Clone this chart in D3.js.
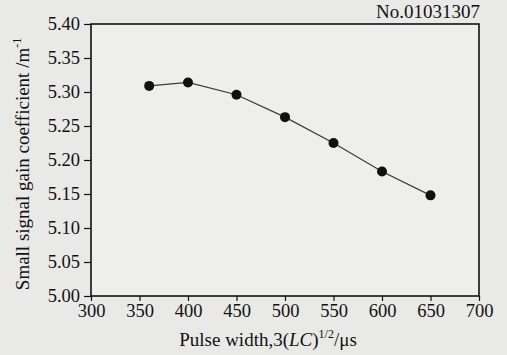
<!DOCTYPE html>
<html>
<head>
<meta charset="utf-8">
<script src="https://cdn.jsdelivr.net/npm/d3@7"></script>
<style>
  html, body { margin: 0; padding: 0; background: #e9e9e7; }
  svg { display: block; }
</style>
</head>
<body>
<div id="chart"></div>
<script>
// Data
const pulseWidth = [360, 400, 450, 500, 550, 600, 650];
const gainCoeff  = [5.309, 5.314, 5.296, 5.263, 5.225, 5.183, 5.148];
const xTicks = [300, 350, 400, 450, 500, 550, 600, 650, 700];
const yTicks = [5.00, 5.05, 5.10, 5.15, 5.20, 5.25, 5.30, 5.35, 5.40];

const INK  = '#111';
const LINE = '#3a3a3a';
const FONT = "'Liberation Serif', 'Times New Roman', serif";

const W = 507, H = 355;
const margin = { top: 24, right: 28, bottom: 59, left: 91 };
const width  = W - margin.left - margin.right;
const height = H - margin.top - margin.bottom;

const svg = d3.select('#chart').append('svg')
  .attr('width', W).attr('height', H);

svg.append('rect').attr('width', W).attr('height', H).attr('fill', '#e9e9e7');

const g = svg.append('g').attr('transform', `translate(${margin.left},${margin.top})`);

const x = d3.scaleLinear().domain([300, 700]).range([0, width]);
const y = d3.scaleLinear().domain([5.0, 5.4]).range([height, 0]);

// plot area
g.append('rect')
  .attr('width', width).attr('height', height)
  .attr('fill', '#eeeeec');

// axes
const xAxis = g.append('g')
  .attr('transform', `translate(0,${height})`)
  .call(d3.axisBottom(x).tickValues(xTicks).tickFormat(d3.format('d')).tickSize(5).tickPadding(3));
const yAxis = g.append('g')
  .call(d3.axisLeft(y).tickValues(yTicks).tickFormat(d3.format('.2f')).tickSize(7).tickPadding(4));

[xAxis, yAxis].forEach(ax => {
  ax.select('.domain').remove();
  ax.selectAll('line').attr('stroke', INK).attr('stroke-width', 1.2);
  ax.selectAll('text')
    .style('font-family', FONT)
    .style('font-size', '18.5px')
    .attr('fill', INK);
});

// frame
g.append('rect')
  .attr('width', width).attr('height', height)
  .attr('fill', 'none')
  .attr('stroke', INK)
  .attr('stroke-width', 1.6);

// series
const pts = pulseWidth.map((p, i) => ({ p, v: gainCoeff[i] }));

g.append('path')
  .datum(pts)
  .attr('fill', 'none')
  .attr('stroke', LINE)
  .attr('stroke-width', 1.2)
  .attr('d', d3.line().x(d => x(d.p)).y(d => y(d.v)));

g.selectAll('circle.pt')
  .data(pts)
  .join('circle')
  .attr('class', 'pt')
  .attr('cx', d => x(d.p))
  .attr('cy', d => y(d.v))
  .attr('r', 5)
  .attr('fill', INK);

// sample number, top right
svg.append('text')
  .attr('x', margin.left + width + 1)
  .attr('y', 18)
  .attr('text-anchor', 'end')
  .style('font-family', FONT)
  .style('font-size', '19px')
  .attr('fill', INK)
  .text('No.01031307');

// x label
const xl = svg.append('text')
  .attr('x', 268)
  .attr('y', 346)
  .attr('text-anchor', 'middle')
  .style('font-family', FONT)
  .style('font-size', '19px')
  .attr('fill', INK);
xl.append('tspan').text('Pulse width,3(');
xl.append('tspan').style('font-style', 'italic').text('LC');
xl.append('tspan').text(')');
xl.append('tspan').attr('dy', -8).style('font-size', '12px').text('1/2');
xl.append('tspan').attr('dy', 8).text('/\u03bcs');

// y label
const yl = svg.append('text')
  .attr('transform', 'translate(29,164) rotate(-90)')
  .attr('text-anchor', 'middle')
  .style('font-family', FONT)
  .style('font-size', '19px')
  .attr('fill', INK);
yl.append('tspan').text('Small signal gain coefficient /m');
yl.append('tspan').attr('dy', -8).style('font-size', '12px').text('-1');
</script>
</body>
</html>
